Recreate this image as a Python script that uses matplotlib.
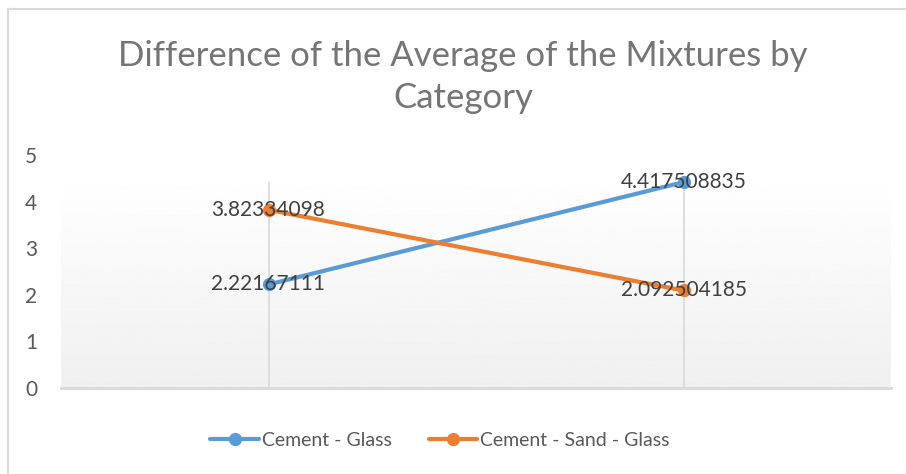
import matplotlib
matplotlib.use('Agg')
import matplotlib.pyplot as plt
import numpy as np
from matplotlib.lines import Line2D

# data
categories = ['', '']
series_names = ['Cement - Glass', 'Cement - Sand - Glass']
cement_glass = [2.22167111, 4.417508835]
cement_sand_glass = [3.82334098, 2.092504185]
value_labels = [['2.22167111', '4.417508835'], ['3.82334098', '2.092504185']]
y_ticks = [0, 1, 2, 3, 4, 5]

colors = ['#5B9BD5', '#ED7D31']
grid_col = '#D9D9D9'
text_col = '#595959'

plt.rcParams['font.family'] = ['Lato', 'DejaVu Sans']

fig = plt.figure(figsize=(9.06, 4.74), dpi=100)
ax = fig.add_axes([61 / 906, 1 - 388 / 474, 830 / 906, (388 - 155) / 474])

# plot area gradient (white at top to light gray at bottom)
grad_top = 0.88
grad = np.linspace(0.94, 0.997, 256).reshape(-1, 1)
ax.imshow(grad, cmap='gray', vmin=0, vmax=1, aspect='auto',
          extent=[0, 1, 0, grad_top], origin='lower', transform=ax.transAxes, zorder=0)

x = np.arange(len(categories))
for xi in x:
    ax.axvline(xi, ymax=grad_top, color=grid_col, lw=1.2, zorder=1)

for vals, col, name in zip([cement_glass, cement_sand_glass], colors, series_names):
    ax.plot(x, vals, color=col, lw=3, marker='o', ms=8.5, label=name, zorder=3,
            solid_capstyle='round')

for vals, labs in zip([cement_glass, cement_sand_glass], value_labels):
    for xi, v, lab in zip(x, vals, labs):
        ax.text(xi, v, lab, ha='center', va='center', fontsize=15, color='#404040', zorder=4)

ax.set_xlim(-0.5, 1.5)
ax.set_ylim(0, 5)
ax.set_yticks(y_ticks)
ax.set_xticks([])
ax.tick_params(axis='y', length=0, pad=17, labelsize=15, labelcolor=text_col)
for s in ['top', 'right', 'left']:
    ax.spines[s].set_visible(False)
ax.spines['bottom'].set_color(grid_col)
ax.spines['bottom'].set_linewidth(2)
ax.set_facecolor('white')

fig.text(463 / 906, 1 - 77 / 474, 'Difference of the Average of the Mixtures by\nCategory',
         ha='center', va='center', fontsize=25, color='#757575',
         linespacing=1.4)

fig.legend(loc='center', bbox_to_anchor=(440 / 906, 1 - 440 / 474), ncol=2, frameon=False,
           fontsize=14, labelcolor=text_col, handlelength=2.5, columnspacing=1.9,
           handletextpad=0.15)

# chart border
fig.add_artist(Line2D([8 / 906, 8 / 906], [0, 1 - 9 / 474], color=grid_col, lw=1.5))
fig.add_artist(Line2D([8 / 906, 1], [1 - 9 / 474, 1 - 9 / 474], color=grid_col, lw=1.5))

fig.savefig('out.png', dpi=100)
